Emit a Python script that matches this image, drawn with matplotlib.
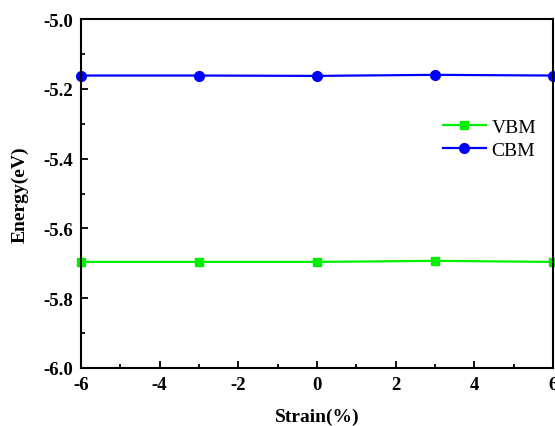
import matplotlib
matplotlib.use("Agg")
import matplotlib.pyplot as plt
from matplotlib.ticker import MultipleLocator

strain = [-6, -3, 0, 3, 6]
vbm = [-5.696, -5.696, -5.696, -5.693, -5.696]
cbm = [-5.162, -5.162, -5.163, -5.160, -5.162]

plt.rcParams['font.family'] = ['Liberation Serif', 'DejaVu Serif']
plt.rcParams['axes.unicode_minus'] = False

fig = plt.figure(figsize=(5.55, 4.27), dpi=100)
ax = fig.add_axes([81/555, (427-369)/427, (553-81)/555, (369-20)/427])

ax.plot(strain, vbm, color='#00ee00', marker='s', markersize=6, linewidth=1.6,
        label='VBM', clip_on=False)
ax.plot(strain, cbm, color='#0000ff', marker='o', markersize=7, linewidth=1.6,
        label='CBM', clip_on=False)

ax.set_xlim(-6, 6)
ax.set_ylim(-6.0, -5.0)
ax.xaxis.set_minor_locator(MultipleLocator(1))
ax.yaxis.set_minor_locator(MultipleLocator(0.1))
ax.tick_params(which='both', direction='in', top=False, right=False, width=1.3)
ax.tick_params(which='major', length=5, labelsize=13.5, pad=6)
ax.tick_params(which='minor', length=3)
xt = [-6, -4, -2, 0, 2, 4, 6]
yt = [-6.0, -5.8, -5.6, -5.4, -5.2, -5.0]
ax.set_xticks(xt)
ax.set_xticklabels(['%d' % v for v in xt], fontweight='bold')
ax.set_yticks(yt)
ax.set_yticklabels(['%.1f' % v for v in yt], fontweight='bold')
for s in ax.spines.values():
    s.set_linewidth(1.5)

ax.set_xlabel('Strain(%)', fontsize=14, fontweight='bold', labelpad=10)
ax.set_ylabel('Energy(eV)', fontsize=14, fontweight='bold', labelpad=10)

leg = ax.legend(loc='upper left', bbox_to_anchor=(0.73, 0.765), frameon=False,
                fontsize=14, handlelength=2.2, handletextpad=0.3, labelspacing=0.25)

fig.savefig('out.png', dpi=100)
